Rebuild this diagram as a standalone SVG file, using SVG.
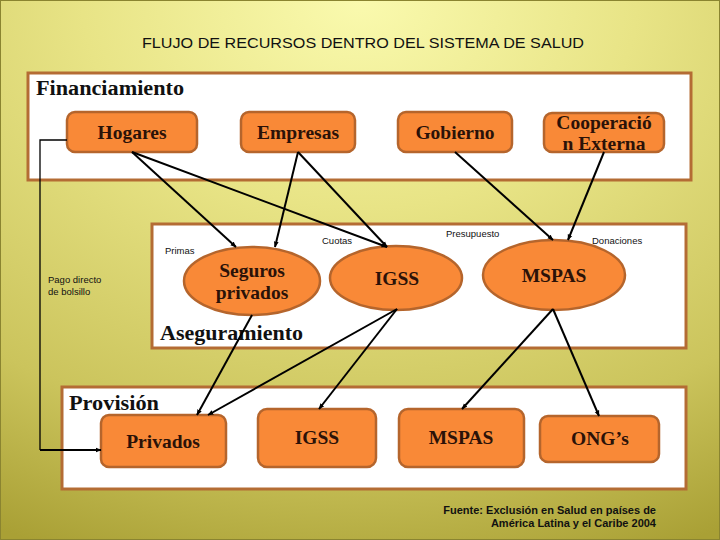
<svg xmlns="http://www.w3.org/2000/svg" width="720" height="540" viewBox="0 0 720 540">
<defs>
<radialGradient id="bg" cx="50%" cy="0%" r="110%" fx="50%" fy="0%">
<stop offset="0" stop-color="#fafaae"/>
<stop offset="0.35" stop-color="#e8e486"/>
<stop offset="0.75" stop-color="#cbc45c"/>
<stop offset="1" stop-color="#a9a035"/>
</radialGradient>
<marker id="ah" viewBox="0 0 10 10" refX="9" refY="5" markerWidth="6" markerHeight="6" markerUnits="userSpaceOnUse" orient="auto">
<path d="M0,1 L10,5 L0,9 Z" fill="#000"/>
</marker>
<style>
.sec{fill:#fff;stroke:#b46c34;stroke-width:3}
.nd{fill:#f98937;stroke:#b5652c;stroke-width:2.5}
.nt{font-family:"Liberation Serif","Times New Roman",serif;font-weight:bold;font-size:19.5px;fill:#2b1208;text-anchor:middle}
.st{font-family:"Liberation Serif","Times New Roman",serif;font-weight:bold;font-size:20px;fill:#111}
.sm{font-family:"Liberation Sans",Arial,sans-serif;font-size:9.5px;fill:#111}
.ft{font-family:"Liberation Sans",Arial,sans-serif;font-size:11px;font-weight:bold;fill:#111;text-anchor:end}
.cn{stroke:#000;stroke-width:2;fill:none}
</style>
</defs>
<rect x="0" y="0" width="720" height="540" fill="url(#bg)"/>
<rect x="0.5" y="0.5" width="719" height="539" fill="none" stroke="#8a8430" stroke-width="1"/>
<text x="363" y="48" font-family="'Liberation Sans',Arial,sans-serif" font-size="14.5" fill="#111" text-anchor="middle" textLength="442" lengthAdjust="spacingAndGlyphs">FLUJO DE RECURSOS DENTRO DEL SISTEMA DE SALUD</text>

<g id="sec-financiamiento">
<rect class="sec" x="28" y="73" width="663" height="107"/>
<text class="st" x="36" y="95" textLength="148" lengthAdjust="spacingAndGlyphs">Financiamiento</text>
</g>
<g id="sec-aseguramiento">
<rect class="sec" x="152" y="224" width="534" height="124"/>
<text class="st" x="160" y="340" textLength="143" lengthAdjust="spacingAndGlyphs">Aseguramiento</text>
</g>
<g id="sec-provision">
<rect class="sec" x="62" y="387" width="624" height="102"/>
<text class="st" x="69" y="410" textLength="90" lengthAdjust="spacingAndGlyphs">Provisión</text>
</g>

<g id="hogares"><rect class="nd" x="67" y="112" width="130" height="40" rx="8"/><text class="nt" x="132" y="139">Hogares</text></g>
<g id="empresas"><rect class="nd" x="241" y="112" width="114" height="40" rx="8"/><text class="nt" x="298" y="139">Empresas</text></g>
<g id="gobierno"><rect class="nd" x="398" y="112" width="114" height="40" rx="8"/><text class="nt" x="455" y="139">Gobierno</text></g>
<g id="cooperacion"><rect class="nd" x="544" y="113" width="120" height="39" rx="8"/><text class="nt" x="604" y="129">Cooperació</text><text class="nt" x="604" y="150">n Externa</text></g>

<g id="seguros"><ellipse class="nd" cx="252" cy="281" rx="68" ry="34"/><text class="nt" x="252" y="277">Seguros</text><text class="nt" x="252" y="299">privados</text></g>
<g id="igss-a"><ellipse class="nd" cx="396" cy="278" rx="66" ry="32"/><text class="nt" x="397" y="285">IGSS</text></g>
<g id="mspas-a"><ellipse class="nd" cx="554" cy="275" rx="71" ry="35"/><text class="nt" x="554" y="282">MSPAS</text></g>

<g id="privados"><rect class="nd" x="101" y="415" width="125" height="52" rx="8"/><text class="nt" x="163" y="448">Privados</text></g>
<g id="igss-p"><rect class="nd" x="258" y="409" width="118" height="58" rx="9"/><text class="nt" x="317" y="444">IGSS</text></g>
<g id="mspas-p"><rect class="nd" x="399" y="409" width="125" height="58" rx="9"/><text class="nt" x="461" y="444">MSPAS</text></g>
<g id="ongs"><rect class="nd" x="540" y="416" width="119" height="46" rx="8"/><text class="nt" x="600" y="445">ONG’s</text></g>

<g id="labels">
<text class="sm" x="165" y="254">Primas</text>
<text class="sm" x="322" y="244">Cuotas</text>
<text class="sm" x="446" y="237">Presupuesto</text>
<text class="sm" x="592" y="244">Donaciones</text>
<text class="sm" x="48" y="283">Pago  directo</text>
<text class="sm" x="48" y="295">de bolsillo</text>
</g>

<g id="connectors">
<line class="cn" x1="132" y1="152" x2="236" y2="247" marker-end="url(#ah)"/>
<line class="cn" x1="132" y1="152" x2="387" y2="247" marker-end="url(#ah)"/>
<line class="cn" x1="298" y1="152" x2="275" y2="247" marker-end="url(#ah)"/>
<line class="cn" x1="298" y1="152" x2="387" y2="247" marker-end="url(#ah)"/>
<line class="cn" x1="455" y1="152" x2="553" y2="240" marker-end="url(#ah)"/>
<line class="cn" x1="604" y1="152" x2="568" y2="240" marker-end="url(#ah)"/>
<line class="cn" x1="252" y1="315" x2="197" y2="415" marker-end="url(#ah)"/>
<line class="cn" x1="397" y1="309" x2="208" y2="415" marker-end="url(#ah)"/>
<line class="cn" x1="397" y1="309" x2="319" y2="409" marker-end="url(#ah)"/>
<line class="cn" x1="553" y1="309" x2="462" y2="409" marker-end="url(#ah)"/>
<line class="cn" x1="553" y1="309" x2="599" y2="416" marker-end="url(#ah)"/>
<polyline fill="none" stroke="#000" stroke-width="1.3" points="67,140 40,140 40,450"/>
<line class="cn" x1="40" y1="450" x2="101" y2="450" marker-end="url(#ah)"/>
</g>

<g id="fuente">
<text class="ft" x="656" y="514">Fuente: Exclusión en Salud en países de</text>
<text class="ft" x="656" y="527">América Latina y el Caribe  2004</text>
</g>
</svg>
